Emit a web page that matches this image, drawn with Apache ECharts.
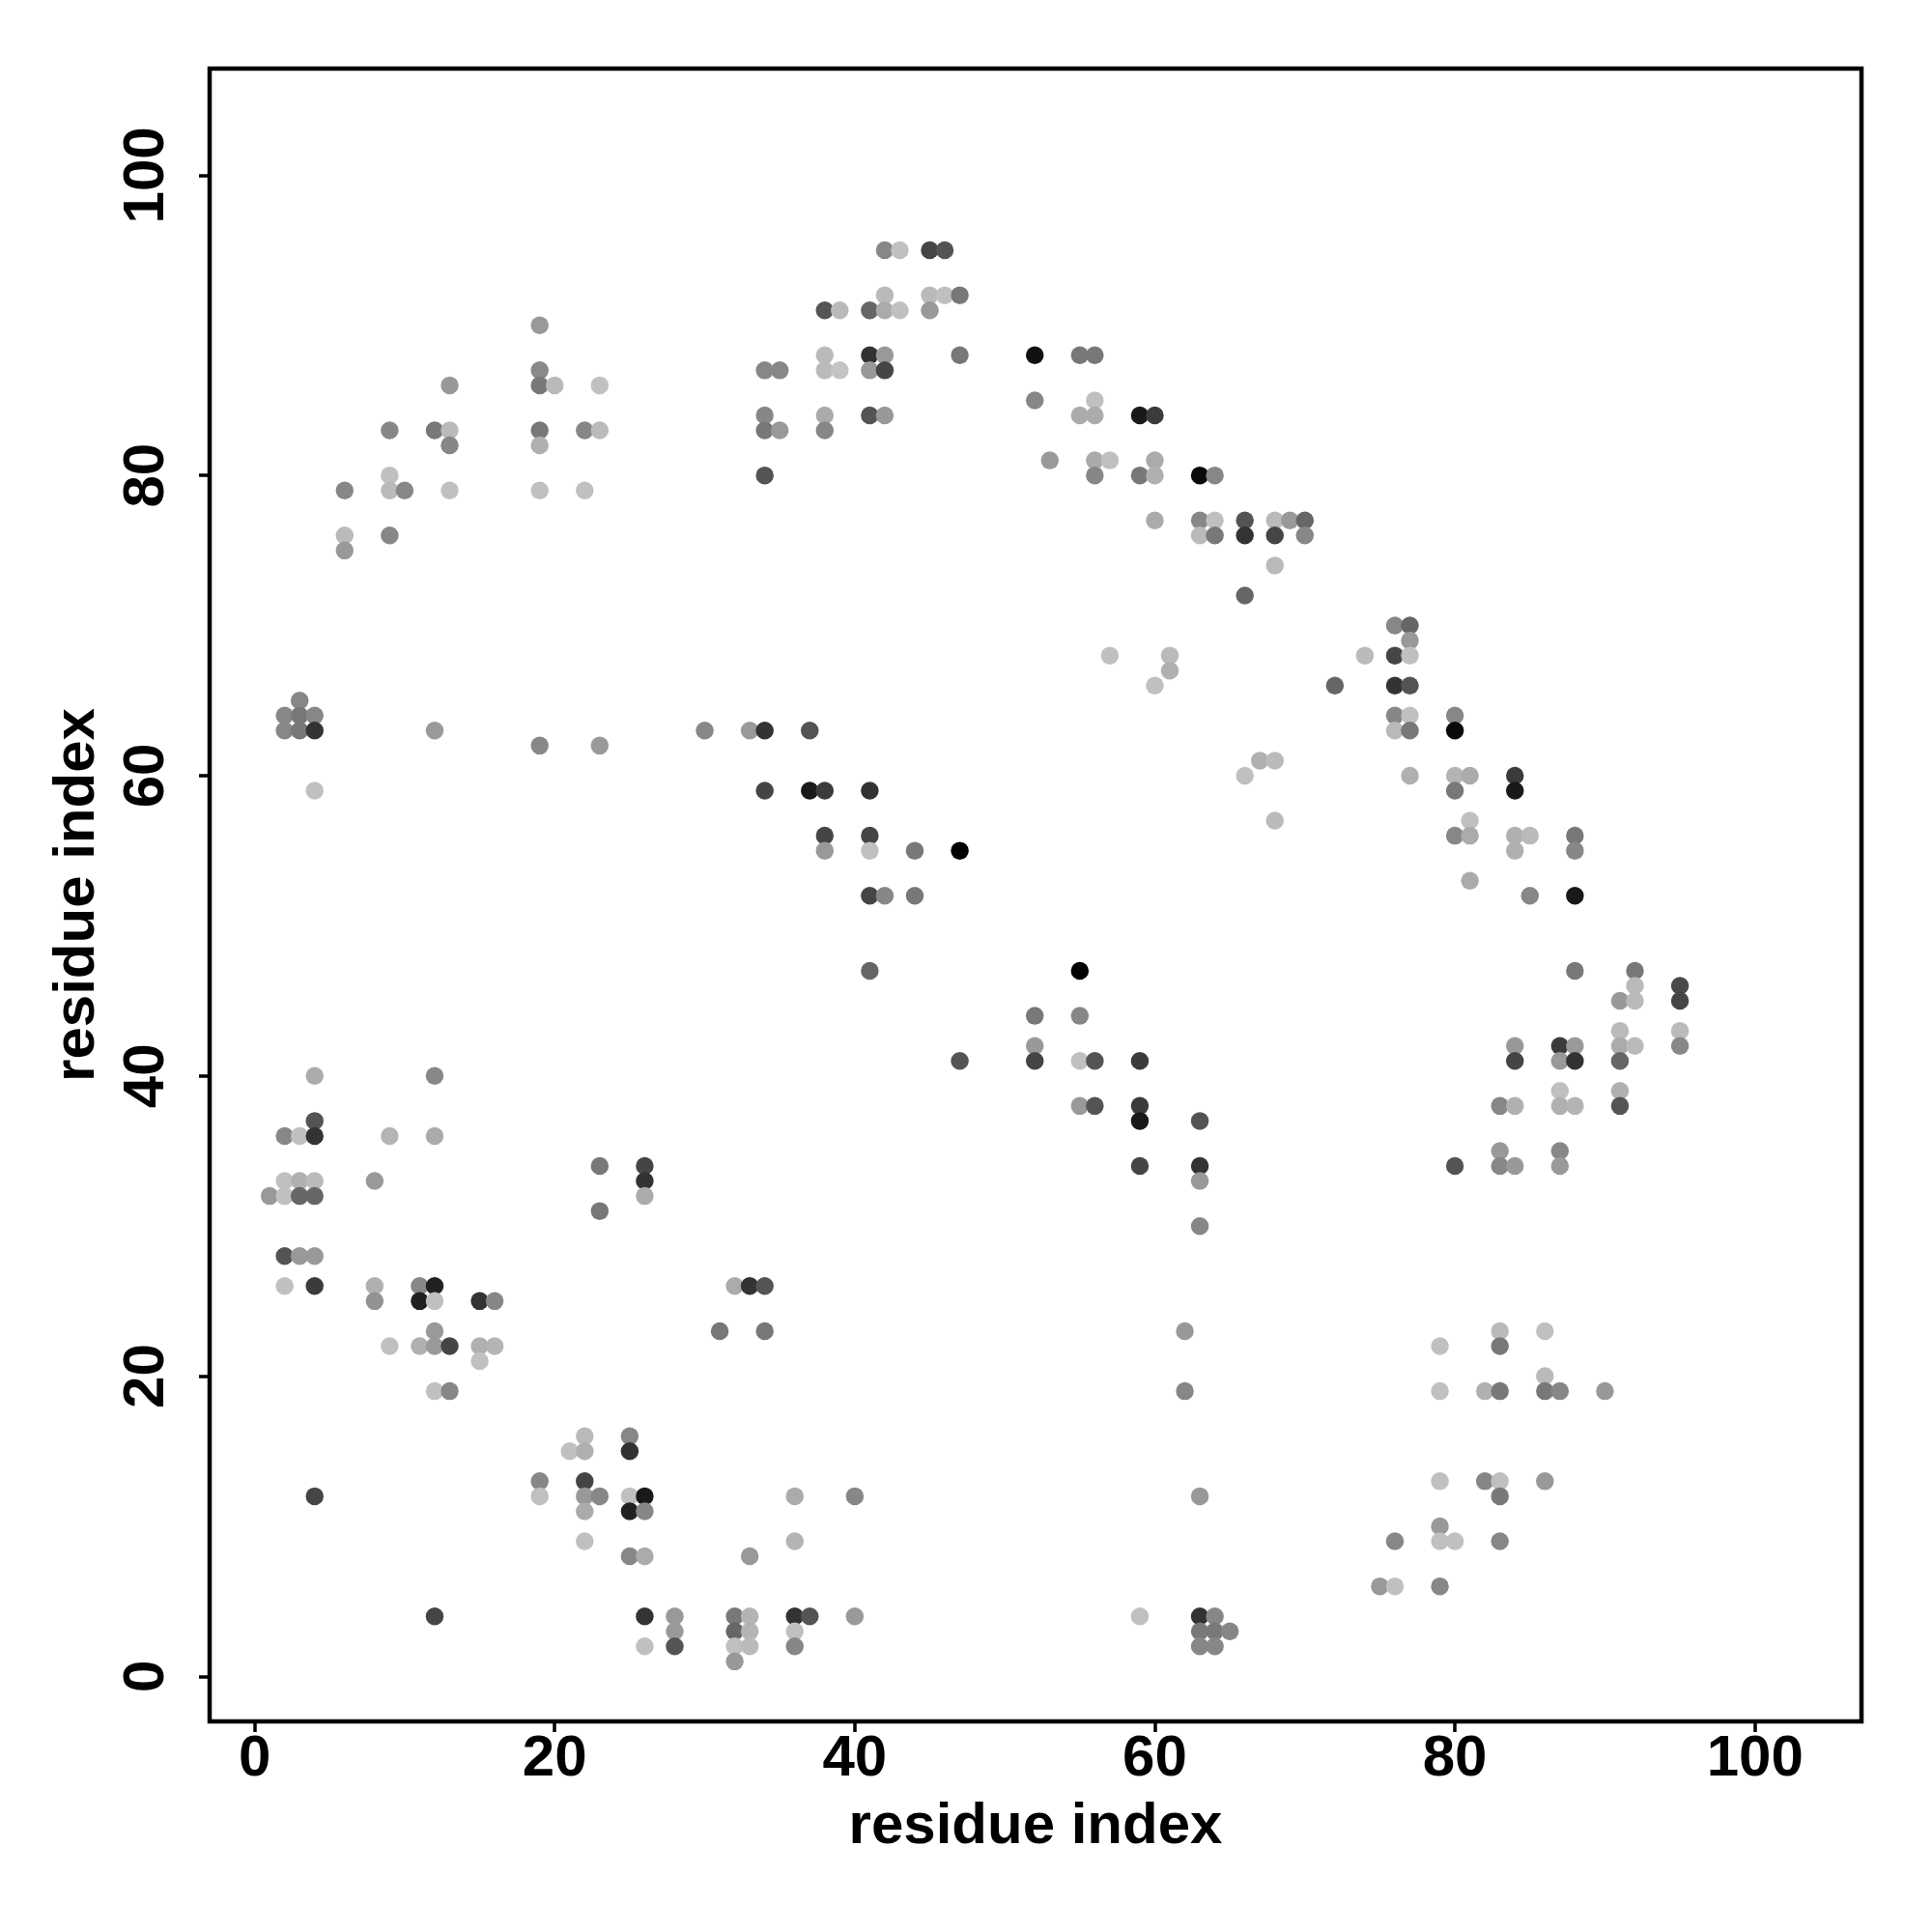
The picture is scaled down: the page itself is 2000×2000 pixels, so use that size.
<!DOCTYPE html>
<html>
<head>
<meta charset="utf-8">
<script src="https://cdn.jsdelivr.net/npm/echarts@6/dist/echarts.min.js"></script>
<style>
  html, body { margin: 0; padding: 0; background: #ffffff; }
  #chart { width: 2000px; height: 2000px; }
</style>
</head>
<body>
<div id="chart"></div>
<script>
// residue i (x) for each column of contacts
const colI = [1,2,3,4,6,8,9,10,11,12,13,15,16,19,20,21,22,23,25,26,28,30,31,32,33,34,35,36,37,38,39,40,41,42,43,44,45,46,47,52,53,55,56,57,59,60,61,62,63,64,65,66,67,68,69,70,72,74,75,76,77,79,80,81,82,83,84,85,86,87,88,90,91,92,95];
// residue j (y) values in each column
const colJ = [
  [32],
  [64,63,36,33,32,28,26],
  [65,64,63,36,33,32,28],
  [64,63,59,40,37,36,33,32,28,26,12],
  [79,76,75],
  [33,26,25],
  [83,80,79,76,36,22],
  [79],
  [26,25,22],
  [83,63,40,36,26,25,23,22,19,4],
  [86,83,82,79,22,19],
  [25,22,21],
  [25,22],
  [90,87,86,83,82,79,62,13,12],
  [86],
  [15],
  [83,79,16,15,13,12,11,9],
  [86,83,62,34,31,12],
  [16,15,12,11,8],
  [34,33,32,12,11,8,4,2],
  [4,3,2],
  [63],
  [23],
  [26,4,3,2,1],
  [63,26,8,4,3,2],
  [87,84,83,80,63,59,26,23],
  [87,83],
  [12,9,4,3,2],
  [63,59,4],
  [91,88,87,84,83,59,56,55],
  [91,87],
  [12,4],
  [91,88,87,84,59,56,55,52,47],
  [95,92,91,88,87,84,52],
  [95,91],
  [55,52],
  [95,92,91],
  [95,92],
  [92,88,55,41],
  [88,85,44,42,41],
  [81],
  [88,84,47,44,41,38],
  [88,85,84,81,80,41,38],
  [81,68],
  [84,80,41,38,37,34,4],
  [84,81,80,77,66],
  [68,67],
  [23,19],
  [80,77,76,37,34,33,30,12,4,3,2],
  [80,77,76,4,3,2],
  [3],
  [77,76,72,60],
  [61],
  [77,76,74,61,57],
  [77],
  [77,76],
  [66],
  [68],
  [6],
  [70,68,66,64,63,9,6],
  [70,69,68,66,64,63,60],
  [22,19,13,10,9,6],
  [64,63,60,59,56,34,9],
  [60,57,56,53],
  [19,13],
  [38,35,34,23,22,19,13,12,9],
  [60,59,56,55,42,41,38,34],
  [56,52],
  [23,20,19,13],
  [42,41,39,38,35,34,19],
  [56,55,52,47,42,41,38],
  [19],
  [45,43,42,41,39,38],
  [47,46,45,42],
  [46,45,43,42]
];
// contact score of each point (darker = higher)
const colP = [
  [.22],
  [.31,.31,.31,.02,.02,.57,.02],
  [.31,.39,.39,.02,.10,.48,.22],
  [.31,.74,.02,.13,.57,.74,.05,.48,.22,.70,.65],
  [.31,.05,.22],
  [.22,.10,.25],
  [.31,.02,.05,.31,.08,.02],
  [.31],
  [.31,.83,.10],
  [.39,.22,.31,.13,.83,.02,.22,.22,.02,.65],
  [.22,.05,.31,.02,.65,.31],
  [.74,.10,.02],
  [.31,.08],
  [.22,.30,.39,.39,.10,.02,.31,.31,.02],
  [.05],
  [.02],
  [.31,.02,.05,.10,.65,.22,.13,.02],
  [.02,.05,.22,.39,.39,.31],
  [.31,.74,.02,.83,.31],
  [.65,.74,.13,.87,.31,.13,.74,.02],
  [.22,.22,.57],
  [.31],
  [.39],
  [.13,.39,.48,.02,.22],
  [.22,.74,.22,.08,.08,.05],
  [.31,.31,.39,.57,.74,.65,.57,.39],
  [.31,.22],
  [.13,.08,.74,.02,.31],
  [.57,.87,.57],
  [.57,.05,.05,.13,.31,.70,.65,.22],
  [.05,.00],
  [.31,.22],
  [.48,.74,.22,.57,.74,.65,.02,.65,.48],
  [.31,.05,.13,.22,.65,.22,.31],
  [.02,.02],
  [.39,.39],
  [.65,.05,.22],
  [.57,.02],
  [.39,.39,1.0,.57],
  [.92,.31,.39,.22,.65],
  [.22],
  [.39,.13,1.0,.31,.02,.22],
  [.39,.02,.13,.13,.31,.57,.57],
  [.02,.02],
  [.87,.39,.70,.70,.87,.65,.02],
  [.70,.13,.10,.13,.02],
  [.05,.10],
  [.22,.31],
  [.95,.31,.05,.57,.74,.22,.31,.22,.74,.39,.31],
  [.31,.02,.39,.31,.39,.31],
  [.31],
  [.57,.74,.48,.02],
  [.10],
  [.05,.65,.05,.05,.05],
  [.22],
  [.48,.31],
  [.48],
  [.05],
  [.22],
  [.31,.65,.74,.31,.05,.31,.02],
  [.48,.22,.02,.57,.02,.39,.10],
  [.02,.02,.02,.22,.02,.31],
  [.31,.95,.08,.39,.31,.57,.02],
  [.13,.02,.13,.13],
  [.10,.31],
  [.31,.22,.31,.05,.39,.39,.02,.39,.31],
  [.70,.87,.10,.10,.22,.65,.10,.22],
  [.05,.31],
  [.02,.05,.39,.22],
  [.70,.22,.02,.10,.31,.22,.31],
  [.39,.31,.87,.39,.22,.74,.08],
  [.22],
  [.22,.05,.13,.48,.10,.57],
  [.39,.05,.05,.05],
  [.62,.65,.05,.31]
];
const tickValues = [0, 20, 40, 60, 80, 100];
const xTitle = 'residue index';
const yTitle = 'residue index';

const points = [];
colI.forEach((i, k) => {
  colJ[k].forEach((j, m) => points.push([i, j, colP[k][m]]));
});

const font = '"Liberation Sans", Arial, Helvetica, sans-serif';
const chart = echarts.init(document.getElementById('chart'), null, { renderer: 'canvas' });
chart.setOption({
  animation: false,
  backgroundColor: '#ffffff',
  grid: {
    left: 217, top: 71, width: 1710, height: 1711,
    show: true, borderColor: '#000000', borderWidth: 4.5, backgroundColor: 'transparent'
  },
  visualMap: {
    show: false, type: 'continuous', dimension: 2, min: 0, max: 1,
    inRange: { color: ['#c4c4c4', '#000000'] }
  },
  xAxis: {
    type: 'value', min: -3, max: 107.1,
    splitLine: { show: false },
    axisLine: { show: false, onZero: false },
    axisTick: { show: true, customValues: tickValues, length: 11, inside: false,
      lineStyle: { color: '#000', width: 3.5 } },
    axisLabel: { customValues: tickValues, fontSize: 60, fontWeight: 'bold', color: '#000',
      fontFamily: font, margin: 9 },
    name: xTitle, nameLocation: 'middle', nameGap: 79,
    nameTextStyle: { fontSize: 60, fontWeight: 'bold', color: '#000', fontFamily: font }
  },
  yAxis: {
    type: 'value', min: -3, max: 107.1,
    splitLine: { show: false },
    axisLine: { show: false, onZero: false },
    axisTick: { show: true, customValues: tickValues, length: 11, inside: false,
      lineStyle: { color: '#000', width: 3.5 } },
    axisLabel: { customValues: tickValues, fontSize: 60, fontWeight: 'bold', color: '#000',
      fontFamily: font, margin: 35, rotate: 90 },
    name: yTitle, nameLocation: 'middle', nameGap: 107, nameRotate: 90,
    nameTextStyle: { fontSize: 60, fontWeight: 'bold', color: '#000', fontFamily: font }
  },
  series: [{
    type: 'scatter',
    data: points,
    symbol: 'circle',
    symbolSize: 18.5,
    itemStyle: { opacity: 1 }
  }]
});
</script>
</body>
</html>
